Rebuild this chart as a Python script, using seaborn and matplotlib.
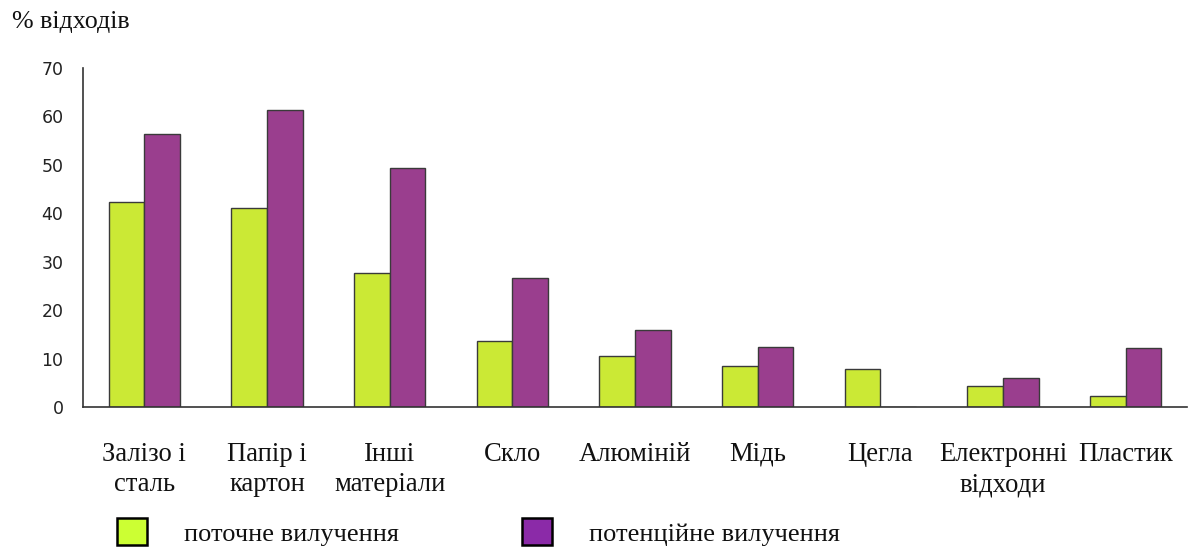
import matplotlib
matplotlib.use("Agg")
import matplotlib.pyplot as plt
import seaborn as sns
import pandas as pd
from matplotlib.patches import Patch
from matplotlib.ticker import FixedLocator

categories = ["Залізо і\nсталь", "Папір і\nкартон", "Інші\nматеріали", "Скло", "Алюміній",
              "Мідь", "Цегла", "Електронні\nвідходи", "Пластик"]
current = [42.3, 41.1, 27.7, 13.6, 10.5, 8.5, 7.8, 4.3, 2.3]
potential = [56.4, 61.3, 49.3, 26.6, 15.9, 12.4, 0.0, 6.0, 12.2]
series_names = ["поточне вилучення", "потенційне вилучення"]
yticks = [0, 10, 20, 30, 40, 50, 60, 70]

bar_colors = ["#cbe935", "#9a3e8e"]
legend_colors = ["#ccff33", "#8b2aa8"]

df = pd.DataFrame({
    "cat": categories * 2,
    "val": current + potential,
    "series": [series_names[0]] * len(categories) + [series_names[1]] * len(categories),
})

sns.set_style("white")
fig = plt.figure(figsize=(11.97, 5.49), dpi=100)
ax = fig.add_axes([0.0693, 0.2587, 0.9916 - 0.0693, 0.876 - 0.2587])

sns.barplot(data=df, x="cat", y="val", hue="series", order=categories,
            hue_order=series_names, palette=bar_colors, width=0.58, saturation=1,
            edgecolor="#3a3a3a", linewidth=1.0, ax=ax, legend=False)

ax.set_xlim(-0.5, len(categories) - 0.5)
ax.set_ylim(0, 70)
ax.set_yticks(yticks)
ax.set_xlabel("")
ax.set_ylabel("")
for s in ["top", "right"]:
    ax.spines[s].set_visible(False)
for s in ["left", "bottom"]:
    ax.spines[s].set_color("#333333")
    ax.spines[s].set_linewidth(1.2)

ax.xaxis.set_minor_locator(FixedLocator([i - 0.5 for i in range(len(categories) + 1)]))
ax.tick_params(axis="x", which="major", length=0, pad=25)
ax.tick_params(axis="x", which="minor", length=6, width=1.2, color="#333333", direction="out")
ax.tick_params(axis="y", length=7, width=1.2, color="#333333", direction="out",
               labelsize=12.5, labelcolor="#222222", pad=7)
for lab in ax.get_yticklabels():
    lab.set_fontfamily("DejaVu Sans")
for lab in ax.get_xticklabels():
    lab.set_fontfamily("Liberation Serif")
    lab.set_fontsize(19.2)
    lab.set_linespacing(1.3)
    lab.set_color("#111111")

fig.text(12 / 1197, 1 - 22 / 549, "% відходів", family="Liberation Serif", fontsize=18.7,
         va="center", ha="left", color="#111111")

# legend
lx = [117 / 1197, 522 / 1197]
for i in range(2):
    h = Patch(facecolor=legend_colors[i], edgecolor="black", linewidth=1.8)
    leg = fig.legend(handles=[h], labels=[series_names[i]], loc="center left",
                     bbox_to_anchor=(lx[i], 1 - 532 / 549), frameon=False,
                     prop={"family": "Liberation Serif", "size": 19},
                     handlelength=1.15, handleheight=1.15, handletextpad=1.4,
                     borderpad=0, borderaxespad=0)
    for t in leg.get_texts():
        t.set_color("#111111")

fig.savefig("out.png", dpi=100)
